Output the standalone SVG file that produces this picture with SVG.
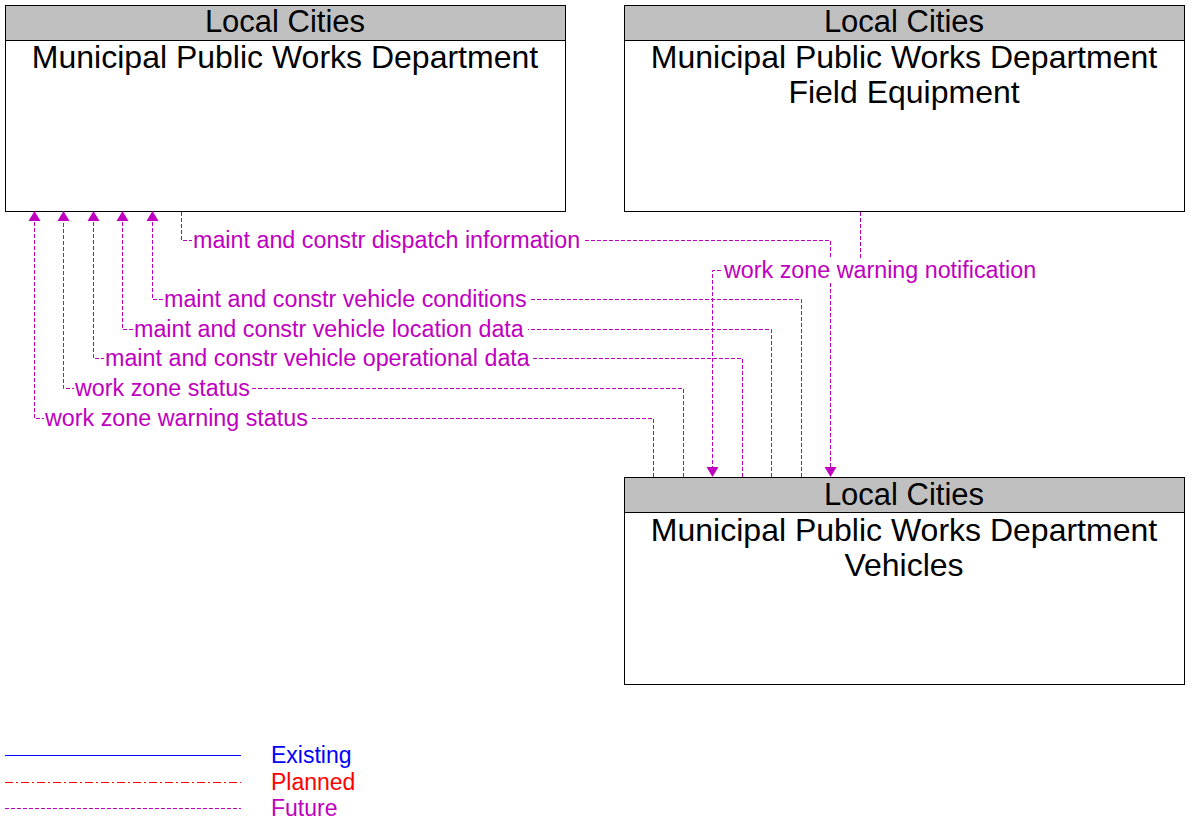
<svg xmlns="http://www.w3.org/2000/svg" width="1199" height="836" viewBox="0 0 1199 836">
<style>
.box{fill:#fff;stroke:#000;stroke-width:1}
.hdr{fill:#c0c0c0;stroke:#000;stroke-width:1}
.t{font-family:"Liberation Sans",Arial,sans-serif;fill:#000;text-anchor:middle}
.th{font-size:31px}
.tn{font-size:32px}
.fl{fill:none;stroke:#c000c0;stroke-width:1;stroke-dasharray:4 2}
.lbl{font-family:"Liberation Sans",Arial,sans-serif;font-size:23.3px;fill:#c000c0}
.bg{fill:#fff}
.ah{fill:#c000c0}
.lg{font-family:"Liberation Sans",Arial,sans-serif;font-size:23px}
</style>
<rect width="1199" height="836" fill="#fff"/>
<g id="node-pwd">
<rect class="box" x="5.5" y="5.5" width="560" height="206"/>
<rect class="hdr" x="5.5" y="5.5" width="560" height="35"/>
<text class="t th" x="285" y="32">Local Cities</text>
<text class="t tn" x="285" y="68">Municipal Public Works Department</text>
</g>
<g id="node-field">
<rect class="box" x="624.5" y="5.5" width="560" height="206"/>
<rect class="hdr" x="624.5" y="5.5" width="560" height="35"/>
<text class="t th" x="904" y="32">Local Cities</text>
<text class="t tn" x="904" y="68">Municipal Public Works Department</text>
<text class="t tn" x="904" y="103">Field Equipment</text>
</g>
<g id="node-vehicles">
<rect class="box" x="624.5" y="477.5" width="560" height="207"/>
<rect class="hdr" x="624.5" y="477.5" width="560" height="35"/>
<text class="t th" x="904" y="505">Local Cities</text>
<text class="t tn" x="904" y="541">Municipal Public Works Department</text>
<text class="t tn" x="904" y="576">Vehicles</text>
</g>
<g id="connectors">
<path class="fl" d="M181.5 212V240.5H830.5V468"/>
<path class="fl" d="M860.5 212V270.5H712.5V468"/>
<path class="fl" d="M801.5 477V299.5H152.5V221"/>
<path class="fl" d="M771.5 477V329.5H122.5V221"/>
<path class="fl" d="M742.5 477V358.5H93.5V221"/>
<path class="fl" d="M683.5 477V388.5H63.5V221"/>
<path class="fl" d="M653.5 477V418.5H34.5V221"/>
<polygon class="ah" points="830.5,477 824.5,467 836.5,467"/>
<polygon class="ah" points="712.5,477 706.5,467 718.5,467"/>
<polygon class="ah" points="152.5,211 146.5,221 158.5,221"/>
<polygon class="ah" points="122.5,211 116.5,221 128.5,221"/>
<polygon class="ah" points="93.5,211 87.5,221 99.5,221"/>
<polygon class="ah" points="63.5,211 57.5,221 69.5,221"/>
<polygon class="ah" points="34.5,211 28.5,221 40.5,221"/>
<rect class="bg" x="192" y="229" width="391" height="24"/>
<text class="lbl" x="193" y="248">maint and constr dispatch information</text>
<rect class="bg" x="723" y="259" width="316" height="24"/>
<text class="lbl" x="724" y="278">work zone warning notification</text>
<rect class="bg" x="163" y="288" width="367" height="24"/>
<text class="lbl" x="164" y="307">maint and constr vehicle conditions</text>
<rect class="bg" x="133" y="318" width="395" height="24"/>
<text class="lbl" x="134" y="337">maint and constr vehicle location data</text>
<rect class="bg" x="104" y="347" width="429" height="24"/>
<text class="lbl" x="105" y="366">maint and constr vehicle operational data</text>
<rect class="bg" x="74" y="377" width="178" height="24"/>
<text class="lbl" x="75" y="396">work zone status</text>
<rect class="bg" x="44" y="407" width="267" height="24"/>
<text class="lbl" x="45" y="426">work zone warning status</text>
</g>
<g id="legend">
<line x1="5" y1="755.5" x2="241" y2="755.5" stroke="#0000ff" stroke-width="1"/>
<line x1="5" y1="782.5" x2="241" y2="782.5" stroke="#ff0000" stroke-width="1" stroke-dasharray="8 3 2 3"/>
<line x1="5" y1="808.5" x2="241" y2="808.5" stroke="#c000c0" stroke-width="1" stroke-dasharray="4 2"/>
<text class="lg" x="271" y="763" fill="#0000ff">Existing</text>
<text class="lg" x="271" y="790" fill="#ff0000">Planned</text>
<text class="lg" x="271" y="816" fill="#c000c0">Future</text>
</g>
</svg>
